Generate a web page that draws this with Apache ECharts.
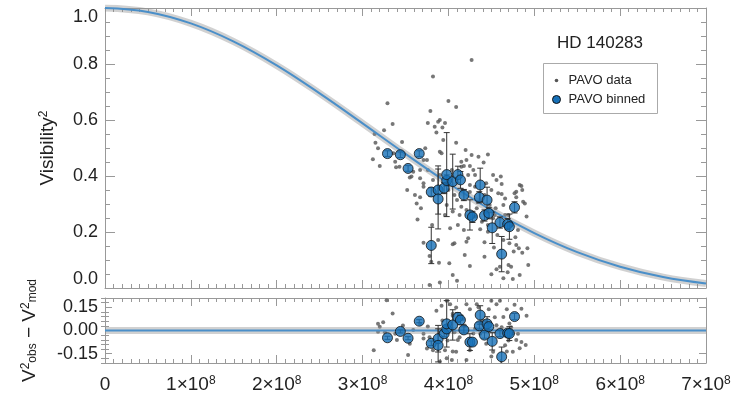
<!DOCTYPE html>
<html>
<head>
<meta charset="utf-8">
<script src="https://cdn.jsdelivr.net/npm/echarts@6/dist/echarts.min.js"></script>
<style>
  html, body { margin: 0; padding: 0; background: #fff; }
  #chart { width: 751px; height: 399px; }
</style>
</head>
<body>
<div id="chart"></div>
<script>
// Spatial frequency B/lambda in units of 1e8 rad^-1, squared visibility V^2.

// Tick labels
const xTickValues = [0, 1, 2, 3, 4, 5, 6, 7];
const resTickValues = [-0.15, 0.00, 0.15];
const resMinorTicks = [-0.21, -0.18, -0.12, -0.09, -0.06, -0.03, 0.03, 0.06, 0.09, 0.12, 0.18, 0.21];

// Best-fit model curve
const modelX = [0, 0.5, 1, 1.5, 2, 2.5, 3, 3.5, 4, 4.5, 5, 5.5, 6, 6.5, 7];
const modelV = [1.000, 0.986, 0.945, 0.880, 0.795, 0.695, 0.588, 0.479, 0.374, 0.278, 0.196, 0.128, 0.076, 0.039, 0.016];

// PAVO data (individual measurements)
const dataX = [4.27, 3.82, 3.29, 4.00, 4.09, 3.79, 3.35, 3.25, 3.14, 3.76, 3.88, 3.96, 3.84, 3.93, 3.86, 3.94, 4.09, 3.46, 3.12, 3.92,
  4.20, 4.35, 4.46, 3.73, 3.75, 4.21, 4.25, 4.15, 4.61, 4.56, 4.79, 4.85, 3.39, 3.59, 3.67, 3.55, 3.52, 3.71, 3.20, 4.31,
  4.50, 4.62, 3.15, 3.38, 3.43, 3.71, 3.90, 3.57, 3.67, 3.61, 3.71, 3.36, 3.18, 3.90, 4.27, 4.15, 4.18, 4.41, 4.29, 4.23,
  4.52, 4.44, 4.83, 4.31, 3.68, 3.64, 3.71, 3.80, 3.89, 4.01, 4.05, 4.10, 3.78, 4.07, 4.02, 4.11, 4.18, 4.23, 4.25, 4.37,
  4.42, 4.46, 4.53, 4.56, 4.60, 4.64, 4.69, 4.73, 4.76, 4.82, 4.86, 4.71, 4.78, 4.81, 4.64, 4.70, 4.91, 4.89, 4.79, 4.62,
  3.98, 4.10, 4.15, 4.21, 4.33, 4.39, 3.67, 3.63, 4.05, 4.31, 4.52, 4.55, 3.78, 4.05, 4.21, 4.19, 4.42, 4.50, 4.70, 4.75,
  4.83, 4.79, 4.93, 4.92, 3.90, 4.58, 4.66, 4.86, 4.87, 4.77, 4.64, 4.46, 4.00, 4.07, 4.25, 4.34, 4.48, 4.54, 4.42, 4.13,
  3.96, 3.81, 3.88, 4.16, 4.04, 3.90, 3.82, 3.76, 4.25, 4.66, 4.74, 4.57];
const dataV = [0.814, 0.755, 0.660, 0.668, 0.646, 0.632, 0.586, 0.563, 0.550, 0.589, 0.594, 0.589, 0.576, 0.573, 0.555, 0.529, 0.519, 0.521, 0.460, 0.481,
  0.493, 0.469, 0.477, 0.499, 0.457, 0.457, 0.436, 0.433, 0.398, 0.386, 0.344, 0.364, 0.431, 0.415, 0.421, 0.395, 0.350, 0.374, 0.436, 0.404,
  0.350, 0.371, 0.519, 0.451, 0.433, 0.457, 0.600, 0.398, 0.392, 0.332, 0.362, 0.481, 0.499, 0.487, 0.475, 0.451, 0.436, 0.448, 0.421, 0.404,
  0.404, 0.374, 0.368, 0.362, 0.285, 0.245, 0.162, 0.094, 0.090, 0.088, 0.046, 0.026, 0.011, 0.160, 0.213, 0.225, 0.207, 0.178, 0.079, 0.210,
  0.163, 0.225, 0.145, 0.067, 0.076, 0.035, 0.056, 0.076, 0.130, 0.142, 0.126, 0.160, 0.181, 0.207, 0.296, 0.261, 0.255, 0.302, 0.324, 0.336,
  0.296, 0.314, 0.290, 0.279, 0.285, 0.237, 0.324, 0.302, 0.273, 0.255, 0.249, 0.285, 0.114, 0.156, 0.165, 0.118, 0.112, 0.049, 0.082, 0.032,
  0.046, 0.154, 0.082, 0.142, 0.020, 0.338, 0.320, 0.350, 0.308, 0.338, 0.171, 0.201, 0.350, 0.332, 0.343, 0.307, 0.296, 0.261, 0.332, 0.261,
  0.261, 0.225, 0.171, 0.350, 0.421, 0.404, 0.386, 0.421, 0.368, 0.261, 0.225, 0.189];

// Residuals of the individual measurements
const resX = [3.28, 3.35, 3.24, 3.13, 3.18, 3.47, 3.55, 3.71, 3.76, 3.82, 3.90, 3.86, 3.92, 4.02, 4.09, 4.21, 4.25, 4.33, 4.47, 4.56,
  4.77, 4.75, 4.85, 4.91, 4.04, 4.21, 4.09, 4.52, 4.66, 4.70, 4.81, 4.62, 4.37, 4.31, 4.13, 4.07, 4.40, 4.54, 4.17, 4.05,
  3.93, 4.68, 3.96, 4.25, 4.44, 4.73, 3.75, 3.67, 3.26, 3.38, 3.59, 3.78, 3.53, 3.98, 4.05, 4.35, 4.50, 4.60, 4.85, 4.90,
  4.83, 3.98, 4.50, 4.68, 4.79, 3.20, 3.18, 3.40, 3.71, 4.05, 4.11, 4.29, 4.44, 4.56, 4.64, 4.71, 4.75, 3.90, 3.99, 4.19];
const resV = [0.196, 0.110, 0.053, -0.128, 0.043, 0.032, -0.085, -0.021, 0.026, -0.128, -0.200, 0.128, 0.160, 0.170, 0.149, 0.170, 0.138, 0.170, 0.138, 0.170,
  0.166, -0.138, -0.075, 0.096, -0.191, -0.191, -0.138, -0.138, -0.096, -0.064, -0.021, 0.021, -0.021, 0.011, -0.043, -0.011, 0.064, 0.085, 0.075, 0.096,
  0.064, 0.138, -0.128, -0.128, -0.085, 0.021, -0.117, 0.043, -0.011, -0.021, 0.004, -0.043, -0.158, 0.193, 0.108, 0.151, 0.193, 0.193, 0.140, -0.094,
  -0.115, -0.179, -0.168, -0.136, -0.062, 0.024, -0.008, -0.062, -0.051, -0.136, -0.062, -0.019, 0.056, 0.034, 0.087, 0.045, -0.019, 0.000, -0.064, 0.032];

// PAVO binned data: position, V^2, error, residual (null = outside the residual panel)
const binX   = [3.29, 3.44, 3.66, 3.53, 3.80, 3.88, 3.88, 3.95, 3.98, 3.98, 4.05, 4.11, 4.14, 4.18, 4.25, 4.28, 4.37, 4.36, 4.42, 4.45, 4.47, 4.51, 4.60, 4.62, 4.69, 4.71, 4.77, 3.80];
const binV   = [0.480, 0.476, 0.480, 0.427, 0.343, 0.350, 0.318, 0.357, 0.384, 0.405, 0.380, 0.405, 0.386, 0.332, 0.261, 0.254, 0.368, 0.324, 0.259, 0.314, 0.267, 0.215, 0.234, 0.121, 0.228, 0.219, 0.288, 0.152];
const binErr = [0.010, 0.010, 0.010, 0.010, 0.015, 0.086, 0.107, 0.020, 0.020, 0.150, 0.098, 0.030, 0.030, 0.020, 0.054, 0.020, 0.060, 0.020, 0.020, 0.046, 0.020, 0.056, 0.020, 0.063, 0.020, 0.045, 0.020, 0.065];
const binRes = [-0.047, -0.006, 0.060, -0.050, -0.083, -0.053, -0.096, -0.021, 0.010, 0.043, 0.036, 0.085, 0.068, 0.004, -0.075, -0.075, 0.100, 0.030, -0.030, 0.043, 0.025, -0.070, -0.020, -0.170, -0.017, -0.020, 0.090, null];

const FONT = '"Liberation Sans", Arial, Helvetica, sans-serif';
const TXT = '#222';
const FRAME = '#999';
const BLUE = '#1670b8';
const LINE_BLUE = '#4a8fc9';
const DOT = '#555';

const zip = (a, b) => a.map((v, i) => [v, b[i]]);
const modelPts = zip(modelX, modelV);
const dataPts = zip(dataX, dataV);
const resPts = zip(resX, resV);
const binPts = zip(binX, binV);
const binErrPts = binX.map((v, i) => [v, binV[i], binErr[i]]);
const resBinPts = [], resErrPts = [];
binX.forEach((v, i) => {
  if (binRes[i] !== null) {
    resBinPts.push([v, binRes[i]]);
    resErrPts.push([v, binRes[i], binErr[i]]);
  }
});

// Vertical error bar with caps, clipped to the plotting area
function errorBar(params, api) {
  const x = api.value(0), y = api.value(1), e = api.value(2);
  const cs = params.coordSys;
  const lo = cs.y, hi = cs.y + cs.height;
  const clamp = v => Math.max(lo, Math.min(hi, v));
  const pTop = api.coord([x, y + e]);
  const pBot = api.coord([x, y - e]);
  const cap = 3;
  const style = { stroke: '#333', lineWidth: 1 };
  const kids = [{
    type: 'line',
    shape: { x1: pTop[0], y1: clamp(pTop[1]), x2: pBot[0], y2: clamp(pBot[1]) },
    style
  }];
  [pTop, pBot].forEach(p => {
    if (p[1] >= lo && p[1] <= hi) {
      kids.push({ type: 'line', shape: { x1: p[0] - cap, y1: p[1], x2: p[0] + cap, y2: p[1] }, style });
    }
  });
  return { type: 'group', children: kids };
}

function xAxisBase(gridIndex, position) {
  return {
    type: 'value', gridIndex, position, min: 0, max: 7, interval: 1,
    axisLine: { show: true, onZero: false, lineStyle: { color: FRAME, width: 1 } },
    axisTick: { show: true, inside: true, length: 8, lineStyle: { color: FRAME } },
    minorTick: { show: true, splitNumber: 10, length: 4, lineStyle: { color: FRAME } },
    splitLine: { show: false },
    axisLabel: { show: false }
  };
}

const xLabelRich = {
  m: { fontSize: 19, color: TXT, fontFamily: FONT },
  s: { fontSize: 12, color: TXT, fontFamily: FONT, verticalAlign: 'top', padding: [0, 0, 4, 0] }
};

const chart = echarts.init(document.getElementById('chart'), null, { renderer: 'canvas' });

const option = {
  backgroundColor: '#fff',
  animation: false,
  title: {
    text: 'HD 140283', left: 557, top: 35, padding: 0,
    textStyle: { fontFamily: FONT, fontSize: 17, fontWeight: 'normal', color: TXT }
  },
  grid: [
    { left: 105, right: 45, top: 8, height: 280, show: false },
    { left: 105, right: 45, top: 298, height: 65, show: false }
  ],
  xAxis: [
    xAxisBase(0, 'bottom'),
    xAxisBase(0, 'top'),
    Object.assign(xAxisBase(1, 'bottom'), {
      axisLabel: {
        show: true, margin: 12,
        formatter: v => v === 0 ? '{m|0}' : '{m|' + v + '×10}{s|8}',
        rich: xLabelRich,
        customValues: xTickValues
      }
    }),
    xAxisBase(1, 'top')
  ],
  yAxis: [
    {
      type: 'value', gridIndex: 0, position: 'left', min: 0, max: 1, interval: 0.2,
      axisLine: { show: true, onZero: false, lineStyle: { color: FRAME } },
      axisTick: { show: true, inside: true, length: 10, lineStyle: { color: FRAME } },
      minorTick: { show: true, splitNumber: 4, length: 5, lineStyle: { color: FRAME } },
      splitLine: { show: false },
      axisLabel: {
        margin: 7, fontSize: 18, fontFamily: FONT, color: TXT,
        formatter: v => v.toFixed(1),
        verticalAlignMaxLabel: 'top', verticalAlignMinLabel: 'bottom'
      },
      name: '{a|Visibility}{s|2}', nameLocation: 'middle', nameGap: 48,
      nameTextStyle: {
        rich: {
          a: { fontSize: 19, fontFamily: FONT, color: TXT },
          s: { fontSize: 12, fontFamily: FONT, color: TXT, verticalAlign: 'top' }
        }
      }
    },
    {
      type: 'value', gridIndex: 0, position: 'right', min: 0, max: 1, interval: 0.2,
      axisLine: { show: true, onZero: false, lineStyle: { color: FRAME } },
      axisTick: { show: true, inside: true, length: 10, lineStyle: { color: FRAME } },
      minorTick: { show: true, splitNumber: 4, length: 5, lineStyle: { color: FRAME } },
      splitLine: { show: false },
      axisLabel: { show: false }
    },
    {
      type: 'value', gridIndex: 1, position: 'left', min: -0.21, max: 0.21,
      axisLine: { show: true, onZero: false, lineStyle: { color: FRAME } },
      axisTick: { show: true, inside: true, length: 7, customValues: resTickValues, lineStyle: { color: FRAME } },
      splitLine: { show: false },
      axisLabel: {
        margin: 7, fontSize: 18, fontFamily: FONT, color: TXT,
        customValues: resTickValues,
        formatter: v => v.toFixed(2)
      },
      name: '{v|V}{p|2}{b|obs}{v| − V}{p|2}{b|mod}', nameLocation: 'middle', nameGap: 66,
      nameTextStyle: {
        rich: {
          v: { fontSize: 19, fontFamily: FONT, color: TXT },
          p: { fontSize: 12, fontFamily: FONT, color: TXT, verticalAlign: 'top' },
          b: { fontSize: 12, fontFamily: FONT, color: TXT, verticalAlign: 'bottom' }
        }
      }
    },
    {
      type: 'value', gridIndex: 1, position: 'left', min: -0.21, max: 0.21,
      axisLine: { show: false },
      axisTick: { show: true, inside: true, length: 4, customValues: resMinorTicks, lineStyle: { color: FRAME } },
      splitLine: { show: false },
      axisLabel: { show: false }
    },
    {
      type: 'value', gridIndex: 1, position: 'right', min: -0.21, max: 0.21,
      axisLine: { show: true, onZero: false, lineStyle: { color: FRAME } },
      axisTick: { show: true, inside: true, length: 7, customValues: resTickValues, lineStyle: { color: FRAME } },
      splitLine: { show: false },
      axisLabel: { show: false }
    },
    {
      type: 'value', gridIndex: 1, position: 'right', min: -0.21, max: 0.21,
      axisLine: { show: false },
      axisTick: { show: true, inside: true, length: 4, customValues: resMinorTicks, lineStyle: { color: FRAME } },
      splitLine: { show: false },
      axisLabel: { show: false }
    }
  ],
  series: [
    // visibility panel
    {
      name: 'PAVO data', type: 'scatter', xAxisIndex: 0, yAxisIndex: 0,
      data: dataPts, symbolSize: 4, itemStyle: { color: DOT }, z: 2
    },
    {
      name: 'model band', type: 'line', xAxisIndex: 0, yAxisIndex: 0,
      data: modelPts, smooth: 0.4, symbol: 'none',
      lineStyle: { color: 'rgba(140,140,140,0.4)', width: 7 }, z: 3
    },
    {
      name: 'model', type: 'line', xAxisIndex: 0, yAxisIndex: 0,
      data: modelPts, smooth: 0.4, symbol: 'none',
      lineStyle: { color: LINE_BLUE, width: 2 }, z: 4
    },
    {
      name: 'binned errors', type: 'custom', xAxisIndex: 0, yAxisIndex: 0,
      data: binErrPts, renderItem: errorBar, encode: { x: 0, y: 1 }, z: 5
    },
    {
      name: 'PAVO binned', type: 'scatter', xAxisIndex: 0, yAxisIndex: 0,
      data: binPts, symbolSize: 10,
      itemStyle: { color: BLUE, borderColor: '#111', borderWidth: 1 }, z: 6
    },
    // residual panel
    {
      name: 'residual data', type: 'scatter', xAxisIndex: 2, yAxisIndex: 2,
      data: resPts, symbolSize: 4, itemStyle: { color: DOT }, z: 2
    },
    {
      name: 'zero band', type: 'line', xAxisIndex: 2, yAxisIndex: 2,
      data: [[0, 0], [7, 0]], symbol: 'none',
      lineStyle: { color: 'rgba(140,140,140,0.4)', width: 7 }, z: 3
    },
    {
      name: 'zero', type: 'line', xAxisIndex: 2, yAxisIndex: 2,
      data: [[0, 0], [7, 0]], symbol: 'none',
      lineStyle: { color: LINE_BLUE, width: 2 }, z: 4
    },
    {
      name: 'residual errors', type: 'custom', xAxisIndex: 2, yAxisIndex: 2,
      data: resErrPts, renderItem: errorBar, encode: { x: 0, y: 1 }, z: 5
    },
    {
      name: 'residual binned', type: 'scatter', xAxisIndex: 2, yAxisIndex: 2,
      data: resBinPts, symbolSize: 10,
      itemStyle: { color: BLUE, borderColor: '#111', borderWidth: 1 }, z: 6
    }
  ],
  graphic: [
    {
      type: 'group', left: 543, top: 63, z: 100,
      children: [
        { type: 'rect', shape: { x: 0, y: 0, width: 114, height: 50 }, style: { fill: '#fff', stroke: '#aaa', lineWidth: 1 } },
        { type: 'circle', shape: { cx: 13, cy: 17, r: 1.8 }, style: { fill: DOT } },
        { type: 'text', x: 25, y: 17, style: { text: 'PAVO data', font: '13px ' + FONT, fill: TXT, verticalAlign: 'middle' } },
        { type: 'circle', shape: { cx: 13, cy: 36, r: 4 }, style: { fill: BLUE, stroke: '#111', lineWidth: 1 } },
        { type: 'text', x: 25, y: 36, style: { text: 'PAVO binned', font: '13px ' + FONT, fill: TXT, verticalAlign: 'middle' } }
      ]
    }
  ]
};

chart.setOption(option);
</script>
</body>
</html>
